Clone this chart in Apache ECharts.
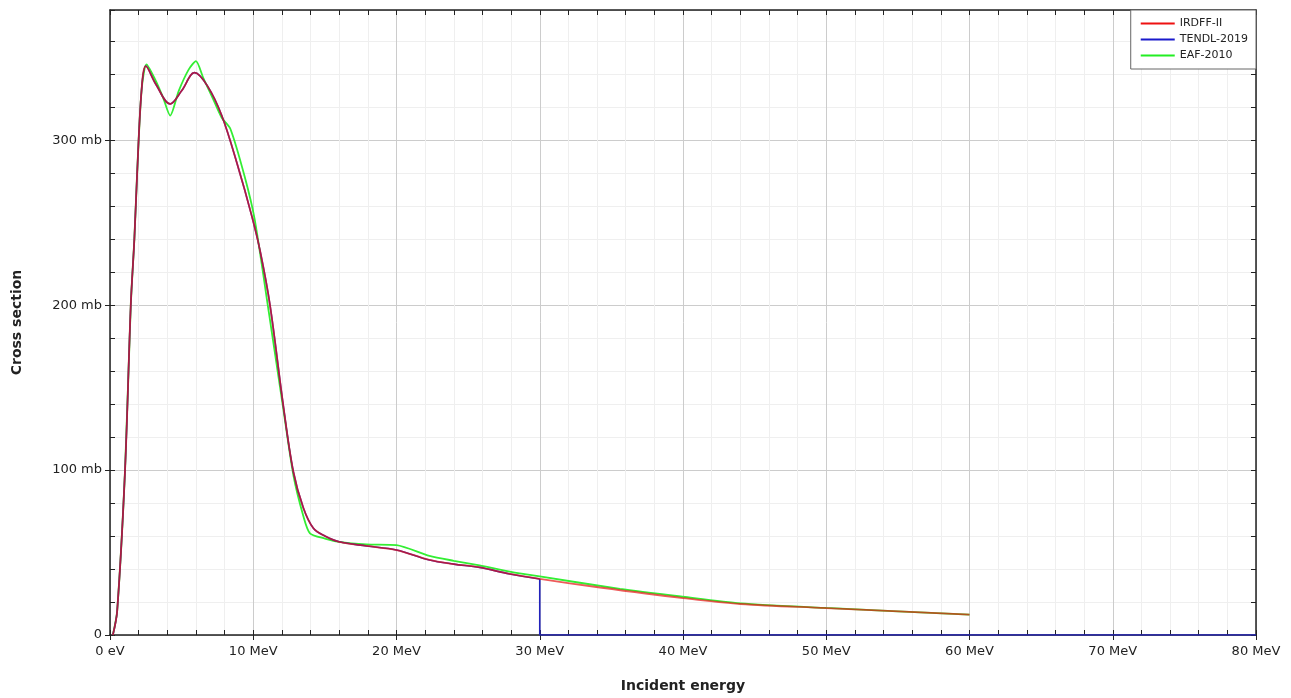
<!DOCTYPE html>
<html>
<head>
<meta charset="utf-8">
<script src="https://cdn.jsdelivr.net/npm/echarts@6/dist/echarts.min.js"></script>
<style>html,body{margin:0;padding:0;background:#fff;overflow:hidden;width:100%;height:100%;}#c{width:1291px;height:698px;}</style>
</head>
<body>
<div id="c"></div>
<script>
// Incident energy (MeV) and cross section (mb)
const irdffE = [0.2,0.5,1.05,1.45,1.7,1.9,2.2,2.5,3.2,4.2,5.0,5.9,6.8,7.8,8.9,9.9,10.5,11.17,12.1,12.8,13.5,14.2,15.0,16.0,17.9,20.0,22.3,24.0,25.8,27.9,30.0,34.2,40.0,44.0,50.0,60.0];
const irdffV = [0,14.5,100,200,240,281,330,345,334,322,330,341,333,315,285,254,232,200,139,99,77,64.7,60,56.5,54,51.5,45.5,43,41,37,34,28.8,22.4,18.8,16.3,12.3];

// TENDL-2019: same curve up to 30 MeV, then drops to zero
const tendlE = [0.2,0.5,1.05,1.45,1.7,1.9,2.2,2.5,3.2,4.2,5.0,5.9,6.8,7.8,8.9,9.9,10.5,11.17,12.1,12.8,13.5,14.2,15.0,16.0,17.9,20.0,22.3,24.0,25.8,27.9,30.0];
const tendlV = [0,14.5,100,200,240,281,330,345,334,322,330,341,333,315,285,254,232,200,139,99,77,64.7,60,56.5,54,51.5,45.5,43,41,37,34];
const tendlTailE = [30.0,30.0,80.0];
const tendlTailV = [34,0,0];

const eafE = [0.2,0.5,1.05,1.45,1.7,1.9,2.2,2.55,3.14,3.7,4.2,4.8,5.5,6.0,6.5,7.2,7.8,8.4,9.4,10.1,11.1,12.1,12.8,13.5,13.96,15.0,16.0,17.9,20.0,22.3,24.0,25.8,27.9,30.0,35.6,40.0,44.0,50.0,60.0];
const eafV = [0,14.5,100,200,240,281,330,346,337,326,315,330,343,348,338,325,313.7,307,278,252,195,137,97,72,61.7,58.5,56.5,55,54.5,48,45,42.2,38.5,35.5,28,23.2,19.2,16.4,12.4];

const xTicks = ['0 eV','10 MeV','20 MeV','30 MeV','40 MeV','50 MeV','60 MeV','70 MeV','80 MeV'];
const yTicks = {0:'0',100:'100 mb',200:'200 mb',300:'300 mb'};

function pairs(e, v){ return e.map((x,i)=>[x, v[i]]); }

const FONT = 'DejaVu Sans';
const X_MAX = 80, Y_MAX = 379;
const axisLineStyle = {color:'#222', width:1.5};

const chart = echarts.init(document.getElementById('c'), null, {renderer:'canvas'});
chart.setOption({
  animation:false,
  backgroundColor:'#fff',
  grid:{left:110, right:35, top:10, bottom:61, containLabel:false},
  legend:{
    orient:'vertical', right:35, top:10,
    backgroundColor:'#fff', borderColor:'#666', borderWidth:1,
    padding:[8,8,8,10], itemGap:5, itemWidth:34, itemHeight:2, icon:'rect',
    textStyle:{fontFamily:FONT, fontSize:11, color:'#222'},
    data:['IRDFF-II','TENDL-2019','EAF-2010']
  },
  xAxis:[
    {type:'value', min:0, max:X_MAX, interval:10, position:'bottom',
     name:'Incident energy', nameLocation:'middle', nameGap:44,
     nameTextStyle:{fontFamily:FONT, fontSize:14, fontWeight:'bold', color:'#222'},
     axisLine:{show:true, onZero:false, lineStyle:axisLineStyle},
     axisTick:{show:true, inside:false, length:5, lineStyle:{color:'#222'}},
     axisLabel:{fontFamily:FONT, fontSize:13, color:'#222', margin:10,
       formatter:v=>xTicks[Math.round(v/10)]},
     splitLine:{show:true, lineStyle:{color:'#cccccc', width:1}},
     minorTick:{show:false},
     minorSplitLine:{show:true, lineStyle:{color:'#efefef', width:1}}
    },
    {type:'value', min:0, max:X_MAX, interval:10, position:'bottom',
     axisLine:{show:false, onZero:false}, axisLabel:{show:false},
     axisTick:{show:true, inside:true, length:5, lineStyle:{color:'#222'}},
     minorTick:{show:true, splitNumber:5, length:5, lineStyle:{color:'#222'}},
     splitLine:{show:false}
    },
    {type:'value', min:0, max:X_MAX, interval:10, position:'top',
     axisLine:{show:true, onZero:false, lineStyle:axisLineStyle}, axisLabel:{show:false},
     axisTick:{show:true, inside:true, length:5, lineStyle:{color:'#222'}},
     minorTick:{show:true, splitNumber:5, length:5, lineStyle:{color:'#222'}},
     splitLine:{show:false}
    }
  ],
  yAxis:[
    {type:'value', min:0, max:Y_MAX, interval:100, position:'left',
     name:'Cross section', nameLocation:'middle', nameGap:86, nameRotate:90,
     nameTextStyle:{fontFamily:FONT, fontSize:14, fontWeight:'bold', color:'#222'},
     axisLine:{show:true, onZero:false, lineStyle:axisLineStyle},
     axisTick:{show:true, inside:false, length:5, lineStyle:{color:'#222'}},
     axisLabel:{fontFamily:FONT, fontSize:13, color:'#222', margin:8, showMaxLabel:false,
       formatter:v=> (yTicks[v] !== undefined ? yTicks[v] : '')},
     splitLine:{show:true, lineStyle:{color:'#cccccc', width:1}},
     minorTick:{show:false},
     minorSplitLine:{show:true, lineStyle:{color:'#efefef', width:1}}
    },
    {type:'value', min:0, max:Y_MAX, interval:100, position:'left',
     axisLine:{show:false, onZero:false}, axisLabel:{show:false},
     axisTick:{show:true, inside:true, length:5, lineStyle:{color:'#222'}},
     minorTick:{show:true, splitNumber:5, length:5, lineStyle:{color:'#222'}},
     splitLine:{show:false}
    },
    {type:'value', min:0, max:Y_MAX, interval:100, position:'right',
     axisLine:{show:true, onZero:false, lineStyle:axisLineStyle}, axisLabel:{show:false},
     axisTick:{show:true, inside:true, length:5, lineStyle:{color:'#222'}},
     minorTick:{show:true, splitNumber:5, length:5, lineStyle:{color:'#222'}},
     splitLine:{show:false}
    }
  ],
  series:[
    {name:'EAF-2010', type:'line', xAxisIndex:0, yAxisIndex:0, data:pairs(eafE, eafV),
     color:'#22ee22', showSymbol:false, symbol:'none', smooth:0.25,
     lineStyle:{color:'#33ee33', width:1.8}, z:2},
    {name:'TENDL-2019', type:'line', xAxisIndex:0, yAxisIndex:0, data:pairs(tendlE, tendlV),
     color:'#1a1acc', showSymbol:false, symbol:'none', smooth:0.35,
     lineStyle:{color:'#2222bb', width:1.6}, z:3},
    {name:'TENDL-2019', type:'line', xAxisIndex:0, yAxisIndex:0, data:pairs(tendlTailE, tendlTailV),
     color:'#1a1acc', showSymbol:false, symbol:'none', smooth:false,
     lineStyle:{color:'#2222bb', width:1.6}, z:3},
    {name:'IRDFF-II', type:'line', xAxisIndex:0, yAxisIndex:0, data:pairs(irdffE, irdffV),
     color:'#ee1111', showSymbol:false, symbol:'none', smooth:0.35,
     lineStyle:{color:'rgba(230,20,20,0.7)', width:1.8}, z:4}
  ]
});
</script>
</body>
</html>
